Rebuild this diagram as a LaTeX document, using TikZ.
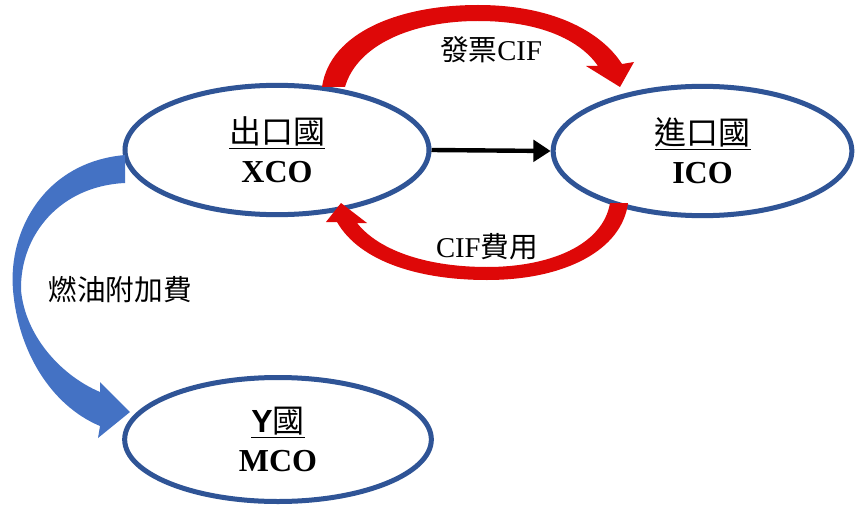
\documentclass[tikz,border=0pt]{standalone}
\usepackage{fontspec}
\setmainfont{Liberation Serif}
\newfontfamily\cjk{Noto Sans CJK TC}
\newfontfamily\sansY{Liberation Sans}
\usetikzlibrary{shapes.geometric,arrows.meta}
\definecolor{ellblue}{RGB}{47,84,150}
\definecolor{arrred}{RGB}{222,8,8}
\definecolor{arrblue}{RGB}{68,114,196}
\tikzset{
  country/.style={ellipse, draw=ellblue, line width=3.75pt, fill=white, inner sep=0pt, align=center,
    font=\fontsize{24}{29}\selectfont},
  redarrow/.style={fill=arrred},
  bluearrow/.style={fill=arrblue},
  lbl/.style={inner sep=0pt, font=\fontsize{21.5}{25}\selectfont},
  flowline/.style={line width=3.3pt, -{Triangle[length=13pt,width=16pt]}}
}
\begin{document}
\begin{tikzpicture}[x=0.75pt,y=-0.75pt]
\useasboundingbox (0,0) rectangle (855,506);
\fill[white] (0,0) rectangle (855,506);
% ellipses
\node[country, minimum width=228pt, minimum height=97pt] (xco) at (277,150)
  {\underline{\cjk 出口國}\\[0pt]\textbf{XCO}};
\node[country, minimum width=224pt, minimum height=97pt] (ico) at (702.5,151)
  {\underline{\cjk 進口國}\\[0pt]\textbf{ICO}};
\node[country, minimum width=230pt, minimum height=93pt] (mco) at (278,439.5)
  {\underline{{\sansY\bfseries Y}{\cjk 國}}\\[0pt]\textbf{MCO}};
% black arrow
\draw[flowline] (xco.east) -- (ico.west);
% top red curved arrow
\fill[redarrow] (322,87) .. controls (330,32) and (400,5) .. (478,5)
  .. controls (550,5) and (600,30) .. (622,64) -- (634,62) -- (620,87) -- (586,66) -- (598,66)
  .. controls (580,40) and (540,21) .. (478,21)
  .. controls (412,21) and (357,45) .. (345,87) -- cycle;
% bottom red curved arrow
\fill[redarrow] (628,203) .. controls (622,250) and (565,280) .. (487,280)
  .. controls (420,280) and (360,262) .. (337,222) -- (326,222) -- (341,203) -- (367,223) -- (357,223)
  .. controls (380,252) and (430,267) .. (487,267)
  .. controls (550,267) and (603,245) .. (610,203) -- cycle;
% blue curved arrow
\fill[bluearrow] (125,155) .. controls (45,162) and (8,230) .. (13,290)
  .. controls (18,350) and (50,405) .. (100,426) -- (98,438) -- (130,412) -- (100,382) -- (100,392)
  .. controls (60,375) and (25,335) .. (21,290)
  .. controls (20,235) and (60,186) .. (125,183) -- cycle;
% labels
\node[lbl] (l1) at (491,50) {{\cjk 發票}CIF};
\node[lbl] (l2) at (487,247) {CIF{\cjk 費用}};
\node[lbl] (l3) at (120,290) {\cjk 燃油附加費};
\end{tikzpicture}
\end{document}
